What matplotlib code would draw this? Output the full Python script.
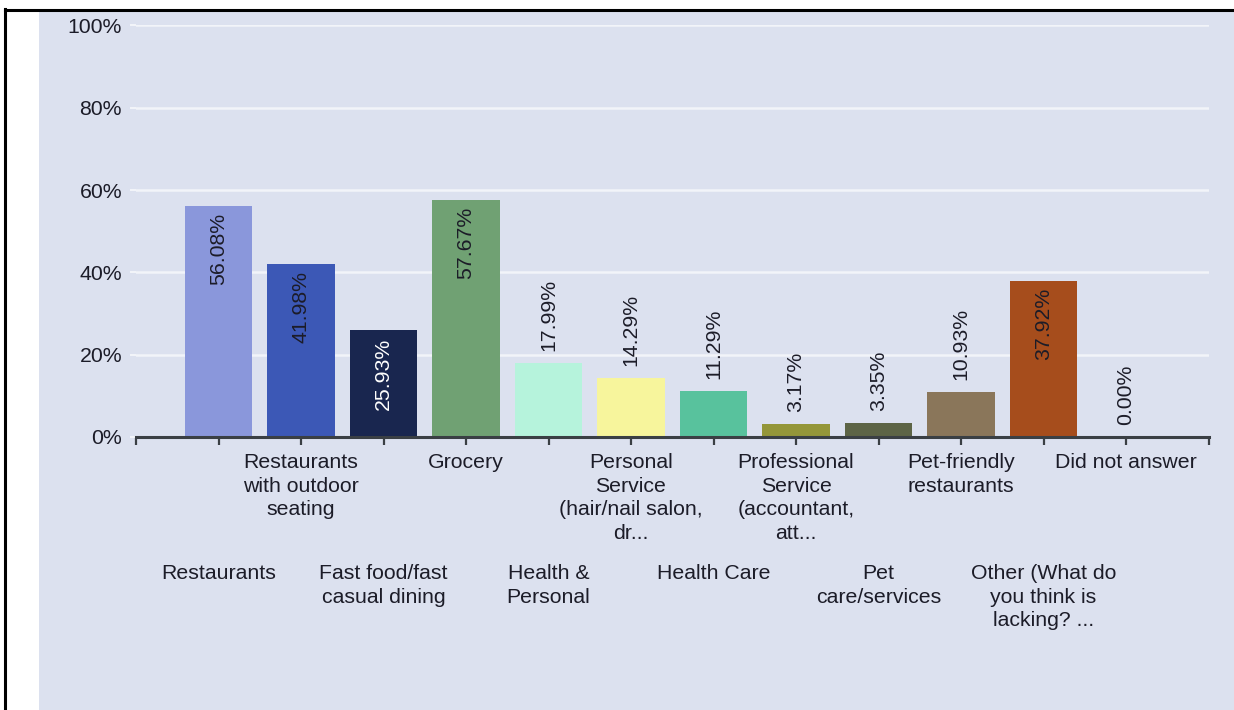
import matplotlib.pyplot as plt
from matplotlib.patches import Rectangle
from matplotlib.lines import Line2D

# -------------------------------------------------
# DATA
# -------------------------------------------------
categories = [
    "Restaurants",
    "Restaurants\nwith outdoor\nseating",
    "Fast food/fast\ncasual dining",
    "Grocery",
    "Health &\nPersonal",
    "Personal\nService\n(hair/nail salon,\ndr...",
    "Health Care",
    "Professional\nService\n(accountant,\natt...",
    "Pet\ncare/services",
    "Pet-friendly\nrestaurants",
    "Other (What do\nyou think is\nlacking? ...",
    "Did not answer",
]
values = [56.08, 41.98, 25.93, 57.67, 17.99, 14.29, 11.29, 3.17, 3.35, 10.93, 37.92, 0.00]
bar_colors = [
    "#8A97DB", "#3C58B6", "#19264F", "#70A173", "#B6F3DC", "#F7F59C",
    "#58C29D", "#949639", "#5D6446", "#8A765A", "#A64D1C", "#8A97DB",
]
y_ticks = [0, 20, 40, 60, 80, 100]
y_tick_labels = ["0%", "20%", "40%", "60%", "80%", "100%"]

# -------------------------------------------------
# STYLE
# -------------------------------------------------
plt.rcParams.update({
    "font.family": ["Liberation Sans", "DejaVu Sans"],
    "font.size": 15.3,
})
TEXT = "#1c1c28"
BG = "#DCE1EF"
GRID = "#F2F4F9"

W, H = 1234, 710
fig = plt.figure(figsize=(W / 100, H / 100), dpi=100, facecolor="white")

# panel background and frame lines
fig.patches.append(Rectangle((39 / W, 0), 1 - 39 / W, (H - 12) / H,
                             transform=fig.transFigure, facecolor=BG,
                             edgecolor="none", zorder=-10))
fig.lines.append(Line2D([5 / W, 5 / W], [0, (H - 9) / H],
                        transform=fig.transFigure, color="black", lw=2.2, zorder=-5))
fig.lines.append(Line2D([5 / W, 1], [(H - 9.5) / H, (H - 9.5) / H],
                        transform=fig.transFigure, color="black", lw=2.2, zorder=-5))

ax = fig.add_axes([136 / W, (H - 437) / H, (1208.5 - 136) / W, (437 - 25.4) / H])
ax.patch.set_alpha(0)

positions = list(range(1, len(values) + 1))
ax.bar(positions, values, width=0.82, color=bar_colors,
       edgecolor="none", zorder=3)

ax.set_xlim(0, 13)
ax.set_ylim(0, 100)

# grid
ax.set_yticks(y_ticks)
ax.set_yticklabels(y_tick_labels, color=TEXT)
ax.yaxis.grid(True, color=GRID, linewidth=1.8, zorder=0)
ax.set_axisbelow(True)
ax.tick_params(axis="y", length=4, color=GRID, pad=6, width=1.5)

# x axis
ax.set_xticks(range(0, 14))
ax.set_xticklabels([])
ax.tick_params(axis="x", length=6, width=1.6, color="#3a3f44", direction="out")
for side in ["top", "right", "left"]:
    ax.spines[side].set_visible(False)
ax.spines["bottom"].set_color("#3a3f44")
ax.spines["bottom"].set_linewidth(2.2)
ax.spines["bottom"].set_zorder(4)

# category labels (staggered in two rows)
for i, (pos, lab) in enumerate(zip(positions, categories)):
    off = -16 if i % 2 == 1 else -127
    ax.annotate(lab, xy=(pos, 0), xytext=(0, off), textcoords="offset pixels",
                ha="center", va="top", color=TEXT, linespacing=1.31,
                annotation_clip=False)

# value labels
for pos, v, c in zip(positions, values, bar_colors):
    txt = f"{v:.2f}%"
    col = "white" if c == "#19264F" else TEXT
    if v > 22:
        ax.annotate(txt, xy=(pos, v), xytext=(0, -7), textcoords="offset pixels",
                    ha="center", va="top", rotation=90, color=col, zorder=5)
    else:
        ax.annotate(txt, xy=(pos, v), xytext=(0, 12), textcoords="offset pixels",
                    ha="center", va="bottom", rotation=90, color=col, zorder=5)

fig.savefig("out.png", dpi=100, facecolor="white")
